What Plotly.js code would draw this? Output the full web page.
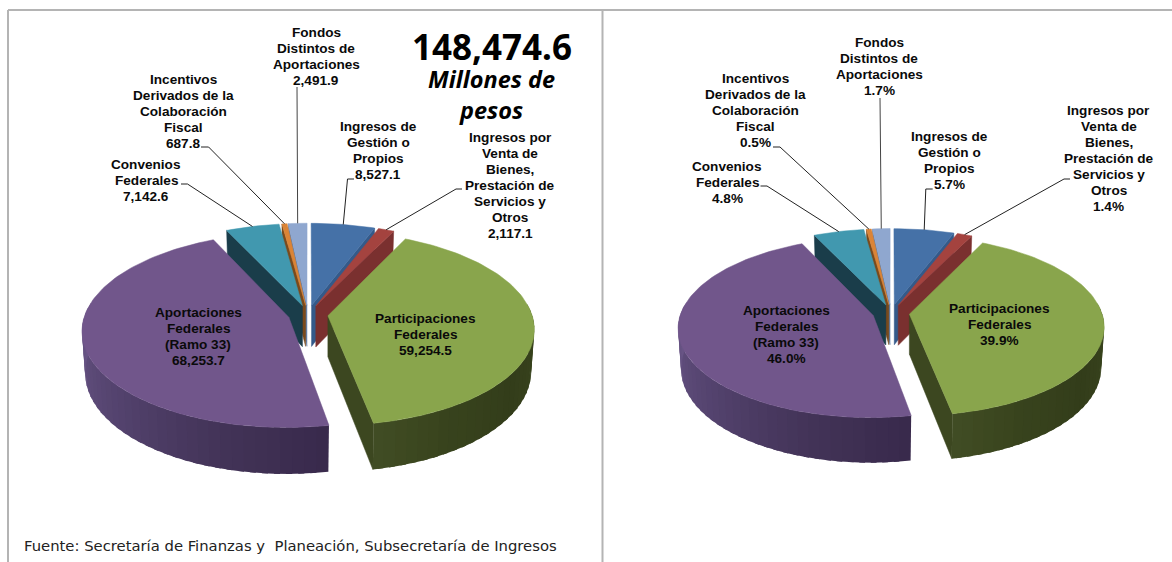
<!DOCTYPE html>
<html><head><meta charset="utf-8">
<script src="https://cdn.plot.ly/plotly-3.0.1.min.js"></script>
<style>html,body{margin:0;padding:0;background:#fff}#c{width:1172px;height:562px}</style>
</head><body><div id="c"></div>
<script>
// ---- data ----
const categories = [
  ["Ingresos de","Gestión o","Propios"],
  ["Ingresos por","Venta de","Bienes,","Prestación de","Servicios y","Otros"],
  ["Participaciones","Federales"],
  ["Aportaciones","Federales","(Ramo 33)"],
  ["Convenios","Federales"],
  ["Incentivos","Derivados de la","Colaboración","Fiscal"],
  ["Fondos","Distintos de","Aportaciones"]
];
const amounts  = [8527.1, 2117.1, 59254.5, 68253.7, 7142.6, 687.8, 2491.9];
const percents = [5.7, 1.4, 39.9, 46.0, 4.8, 0.5, 1.7];
const totalText = "148,474.6";
const unitLines = ["Millones de","pesos"];
const sourceText = "Fuente: Secretaría de Finanzas y \u00a0Planeación, Subsecretaría de Ingresos";

// ---- styles ----
const topColors  = ["#4571a7","#a4433f","#89a54c","#71568b","#4198af","#db8436","#8fa7cf"];
const wallColors = ["#345a8a","#7a302f","#3c4720","#3a2b4d","#1a3d4a","#7a4a1c","#5f7eaa"];
// rim shading stops: [angle, colour]
const rimStops = {
  2: [[90,[58,69,30]],[125,[51,61,26]],[150,[56,67,29]],[172,[66,78,37]]],
  3: [[168,[56,41,75]],[195,[66,51,87]],[230,[84,67,110]],[270,[104,84,133]],[340,[110,88,138]]]
};
const drawOrder = [6,5,4,0,1,2,3];

const layouts = [
  {cx:308, cy:314.5, ex:20, rx:204, ry:95, k:0.13, depth:41,
   texts: amounts.map(v=>v.toLocaleString('en-US',{minimumFractionDigits:1,maximumFractionDigits:1})),
   labelX:[378,510,425.6,198,146,183,316], labelY:[150.5,185,334.5,336,180.5,111,56],
   elbow:[[[354,179],[347.5,179]],[[462,189],[456,189]],null,null,[[181,184],[187.5,184]],[[201,147],[208.6,147]],[[297,87]]]},
  {cx:891, cy:313, ex:18.5, rx:192.5, ry:88, k:0.13, depth:40,
   texts: percents.map(v=>v.toFixed(1)+'%'),
   labelX:[949.5,1108.6,999,786,727,755,879], labelY:[160.5,158.5,324,334,182,110,66.5],
   elbow:[[[932.7,189],[925.8,189]],[[1070,179],[1064,179]],null,null,[[760.5,186],[767,186]],[[773,147],[780,147]],[[880,98]]]}
];

const total = amounts.reduce((a,b)=>a+b,0);
const rad = d=>d*Math.PI/180;
const traces = [], annotations = [];

function lerpColor(stops, t){
  if(t<=stops[0][0]) return stops[0][1];
  for(let i=1;i<stops.length;i++){
    if(t<=stops[i][0]){
      const f=(t-stops[i-1][0])/(stops[i][0]-stops[i-1][0]);
      return stops[i-1][1].map((c,j)=>c+(stops[i][1][j]-c)*f);
    }
  }
  return stops[stops.length-1][1];
}
function poly(pts,color,lw){
  traces.push({type:'scatter',mode:'lines',x:pts.map(p=>p[0]).concat(pts[0][0]),y:pts.map(p=>p[1]).concat(pts[0][1]),
    fill:'toself',fillcolor:color,line:{color:color,width:lw===undefined?0.5:lw},hoverinfo:'skip',showlegend:false});
}
function line(pts,color,w){
  traces.push({type:'scatter',mode:'lines',x:pts.map(p=>p[0]),y:pts.map(p=>p[1]),
    line:{color:color,width:w},hoverinfo:'skip',showlegend:false});
}
function textLine(x,y,txt,font){
  annotations.push({x,y,xref:'x',yref:'y',showarrow:false,text:txt,xanchor:'center',yanchor:'middle',align:'center',borderpad:0,font});
}

layouts.forEach(g=>{
  let acc=0;
  const off=g.ex/g.rx;
  const slices = amounts.map((v,i)=>{
    const s=acc/total*360; acc+=v; const e=acc/total*360; const m=(s+e)/2;
    return {i,s,e,m};
  });
  // perspective projection of a point on the top plane: radius r (0..1) at angle t, slice pushed out along its mid angle
  const proj=(sl,t,r)=>{
    const X=off*Math.sin(rad(sl.m))+r*Math.sin(rad(t));
    const Y=off*Math.cos(rad(sl.m))+r*Math.cos(rad(t));
    const w=1+g.k*Y;
    return [g.cx+g.rx*X/w, g.cy-g.ry*Y/w];
  };
  const rim=(sl,t)=>proj(sl,t,1);
  const low=(sl,p)=>{const a=proj(sl,0,0);return [a[0]+(p[0]-a[0])*0.985, p[1]+g.depth+0.05*(p[1]-a[1])];};
  const wall=(sl,t)=>{const r=rim(sl,t),a=proj(sl,0,0);
    poly([a,r,low(sl,r),[a[0],a[1]+g.depth]],wallColors[sl.i]);};

  drawOrder.forEach(idx=>{
    const sl=slices[idx];
    if(sl.e>1 && sl.e<179) wall(sl,sl.e);
    if(sl.s>181 && sl.s<359.9) wall(sl,sl.s);
    // rim strips, front-facing part only; each strip overlaps the next so no seams show
    const step=3;
    for(let t=sl.s;t<sl.e;t+=step){
      const t2=Math.min(t+step,sl.e);
      if(Math.cos(rad((t+t2)/2))>0.15) continue;
      const stops=rimStops[idx];
      const col=stops?lerpColor(stops,(t+t2)/2).map(Math.round):null;
      const a=rim(sl,t);
      const c=rim(sl,Math.min(t2+1.5,sl.e));
      poly([a,c,low(sl,c),low(sl,a)],col?`rgb(${col.join(',')})`:wallColors[idx],0);
    }
    // top face
    const pts=[proj(sl,0,0)];
    for(let t=sl.s;t<sl.e;t+=1.5) pts.push(rim(sl,t));
    pts.push(rim(sl,sl.e));
    poly(pts,topColors[idx]);
  });

  // leaders and labels
  slices.forEach(sl=>{
    const el=g.elbow[sl.i];
    if(el){
      const end=rim(sl,sl.m);
      line(el.concat([end]), sl.i===6 ? '#444' : '#222', 1);
    }
    const rows=categories[sl.i].concat(g.texts[sl.i]);
    rows.forEach((r,j)=>textLine(g.labelX[sl.i], g.labelY[sl.i]+(j-(rows.length-1)/2)*16, '<b>'+r+'</b>',
      {family:'"Liberation Sans",Arial,sans-serif',size:13.6,color:'#0a0a0a'}));
  });
});

textLine(492,46,'<b>'+totalText+'</b>',{family:'"Noto Sans",sans-serif',size:35,color:'#000'});
textLine(491,94,'<b><i>'+unitLines.join('<br>')+'</i></b>',{family:'"Noto Sans",sans-serif',size:23.5,color:'#000'});
annotations.push({x:23,y:545,xref:'x',yref:'y',showarrow:false,text:sourceText,xanchor:'left',yanchor:'middle',borderpad:0,
  font:{family:'"DejaVu Sans",Verdana,sans-serif',size:14.8,color:'#222'}});

const border={type:'line',xref:'x',yref:'y',line:{color:'#b4b4b4',width:2}};
const shapes=[
  {...border,x0:8,x1:1172,y0:10,y1:10},
  {...border,x0:8,x1:8,y0:10,y1:562},
  {...border,x0:602.5,x1:602.5,y0:10,y1:562}
];

Plotly.newPlot('c',traces,{
  width:1172,height:562,margin:{l:0,r:0,t:0,b:0},paper_bgcolor:'#fff',plot_bgcolor:'#fff',showlegend:false,
  xaxis:{range:[0,1172],visible:false,fixedrange:true},
  yaxis:{range:[562,0],visible:false,fixedrange:true},
  annotations,shapes,hovermode:false
},{displayModeBar:false,staticPlot:true});
</script></body></html>
